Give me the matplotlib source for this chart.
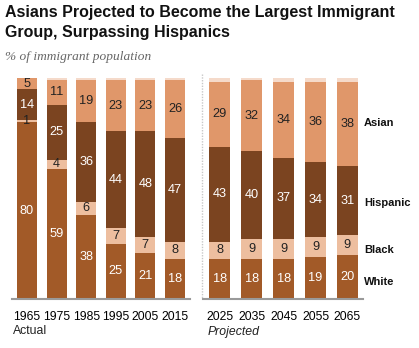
import matplotlib
matplotlib.use("Agg")
import matplotlib.pyplot as plt
import numpy as np

years_actual = ["1965", "1975", "1985", "1995", "2005", "2015"]
years_proj = ["2025", "2035", "2045", "2055", "2065"]

white_a = [80, 59, 38, 25, 21, 18]
black_a = [1, 4, 6, 7, 7, 8]
hisp_a = [14, 25, 36, 44, 48, 47]
asian_a = [5, 11, 19, 23, 23, 26]

white_p = [18, 18, 18, 19, 20]
black_p = [8, 9, 9, 9, 9]
hisp_p = [43, 40, 37, 34, 31]
asian_p = [29, 32, 34, 36, 38]

groups = ["White", "Black", "Hispanic", "Asian"]
colors = ["#A25A28", "#EDBE9F", "#7B4420", "#E0976A"]
other_color = "#F5DACA"
text_colors = ["white", "#222222", "white", "#222222"]

W, H = 419, 348
fig = plt.figure(figsize=(W / 100, H / 100), dpi=100)
plt.rcParams['font.family'] = ['Liberation Sans', 'DejaVu Sans']

def px(x0, y_top, w, h):
    return [x0 / W, 1 - (y_top + h) / H, w / W, h / H]

def draw(ax, labels, series, width):
    x = np.arange(len(labels))
    bottom = np.zeros(len(labels))
    for vals, c, tc in zip(series, colors, text_colors):
        vals = np.array(vals, dtype=float)
        ax.bar(x, vals, width, bottom=bottom, color=c, edgecolor='none')
        for xi, b, v in zip(x, bottom, vals):
            ax.text(xi, b + v / 2, f"{int(v)}", ha='center', va='center',
                    color=tc, fontsize=9.2)
        bottom += vals
    other = 100 - bottom
    other = np.where(other < 0.6, 0.6, other)
    ax.bar(x, other, width, bottom=bottom, color=other_color, edgecolor='none')
    ax.set_ylim(0, 100)
    ax.set_xticks(x)
    ax.set_xticklabels(labels, fontsize=8.8)
    ax.tick_params(axis='x', length=0, pad=9)
    ax.set_yticks([])
    for s in ['top', 'right', 'left']:
        ax.spines[s].set_visible(False)
    ax.spines['bottom'].set_color('#9a9a9a')
    ax.spines['bottom'].set_linewidth(1.5)
    ax.patch.set_alpha(0)

ax1 = fig.add_axes(px(12, 78, 178, 221))
draw(ax1, years_actual, [white_a, black_a, hisp_a, asian_a], 0.68)
ax1.set_xlim(-0.507, 5.507)

ax2 = fig.add_axes(px(203, 78, 160, 221))
draw(ax2, years_proj, [white_p, black_p, hisp_p, asian_p], 0.66)
ax2.set_xlim(-0.53, 4.49)

# dotted separator
fig.add_artist(plt.Line2D([202 / W, 202 / W], [1 - 74 / H, 1 - 299 / H],
                          color='#c8c8c8', linestyle=(0, (1, 1)), linewidth=1))

# group labels on right
label_y = {"Asian": 123, "Hispanic": 203, "Black": 250, "White": 282}
for g, y in label_y.items():
    fig.text(364 / W, 1 - y / H, g, ha='left', va='center', fontsize=8,
             fontweight='bold', color='#111111')

fig.text(13 / W, 1 - 331 / H, "Actual", ha='left', va='center', fontsize=8.8,
         color='#222222')
fig.text(208 / W, 1 - 332 / H, "Projected", ha='left', va='center', fontsize=8.8,
         style='italic', color='#222222')

fig.text(5 / W, 1 - 12 / H, "Asians Projected to Become the Largest Immigrant",
         ha='left', va='center', fontsize=11.5, fontweight='bold', color='#111111')
fig.text(5 / W, 1 - 32 / H, "Group, Surpassing Hispanics",
         ha='left', va='center', fontsize=11.5, fontweight='bold', color='#111111')
fig.text(5 / W, 1 - 57 / H, "% of immigrant population", ha='left', va='center',
         fontsize=9.6, style='italic', family='Liberation Serif', color='#666666')

fig.savefig("out.png", dpi=100)
